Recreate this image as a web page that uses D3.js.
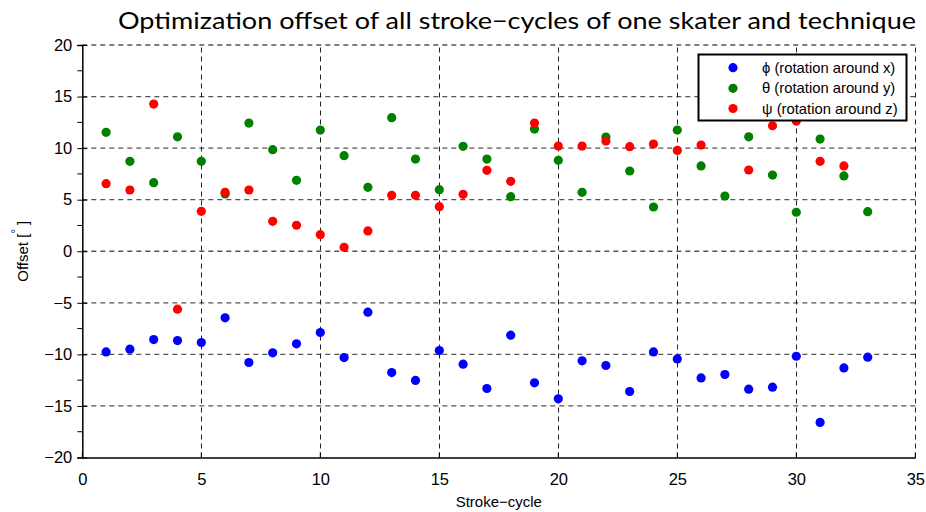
<!DOCTYPE html>
<html>
<head>
<meta charset="utf-8">
<script src="https://cdn.jsdelivr.net/npm/d3@7"></script>
<style>
  html, body { margin: 0; padding: 0; background: #fff; }
  svg { display: block; }
</style>
</head>
<body>
<svg id="chart" width="926" height="512"></svg>
<script>
// Stroke-cycle index for every measured cycle
const cycles = [1,2,3,4,5,6,7,8,9,10,11,12,13,14,15,16,17,18,19,20,21,22,23,24,25,26,27,28,29,30,31,32,33];

// Optimised offsets in degrees (null = not available)
const phi = [-9.76,-9.5,-8.56,-8.66,-8.85,-6.46,-10.79,-9.85,-8.98,-7.88,-10.31,-5.91,-11.76,-12.53,-9.63,-10.95,-13.31,-8.14,-12.76,-14.31,-10.63,-11.08,-13.6,-9.76,-10.44,-12.28,-11.95,-13.37,-13.18,-10.18,-16.6,-11.31,-10.27];
const theta = [11.53,8.72,6.65,11.1,8.72,5.55,12.43,9.85,6.88,11.75,9.27,6.2,12.95,8.94,5.97,10.17,8.94,5.29,11.85,8.82,5.71,11.08,7.78,4.29,11.75,8.27,5.36,11.1,7.39,3.78,10.88,7.3,3.84];
const psi = [6.55,5.94,14.27,-5.62,3.87,5.71,5.94,2.9,2.52,1.61,0.39,1.97,5.42,5.42,4.32,5.52,7.85,6.78,12.43,10.2,10.2,10.69,10.14,10.4,9.78,10.3,null,7.88,12.17,12.62,8.72,8.27,null];

const seriesNames = ["\u03d5 (rotation around x)", "\u03b8 (rotation around y)", "\u03c8 (rotation around z)"];
const seriesColors = ["#0000ff", "#008000", "#ff0000"];

const xTicks = [0,5,10,15,20,25,30,35];
const yTicks = [-20,-15,-10,-5,0,5,10,15,20];
const yMinorTicks = [-17.5,-12.5,-7.5,-2.5,2.5,7.5,12.5,17.5];

const titleText = "Optimization offset of all stroke\u2212cycles of one skater and technique";
const xLabel = "Stroke\u2212cycle";

const W = 926, H = 512;
const margin = { left: 82.3, right: 10.7, top: 45, bottom: 54.5 };
const pw = W - margin.left - margin.right;
const ph = H - margin.top - margin.bottom;

const svg = d3.select("#chart");
const x = d3.scaleLinear().domain([0, 35]).range([margin.left, margin.left + pw]);
const y = d3.scaleLinear().domain([-20, 20]).range([margin.top + ph, margin.top]);

const tickFont = "'Liberation Sans', Arial, sans-serif";

// Dashed grid
const grid = svg.append("g");
grid.selectAll("line.h").data(yTicks.filter(v => v > -20)).join("line")
  .attr("x1", x(0)).attr("x2", x(35))
  .attr("y1", d => y(d)).attr("y2", d => y(d))
  .attr("stroke", "#555").attr("stroke-width", 1.3)
  .attr("stroke-dasharray", "5,4");
grid.selectAll("line.v").data(xTicks.filter(v => v > 0)).join("line")
  .attr("x1", d => Math.round(x(d)) + 0.5).attr("x2", d => Math.round(x(d)) + 0.5)
  .attr("y1", y(-20)).attr("y2", y(20))
  .attr("stroke", "#222").attr("stroke-width", 1)
  .attr("stroke-dasharray", "5,4");

// Y axis with major ticks crossing the spine and minor ticks outside
const yAxis = svg.append("g").attr("transform", `translate(${x(0)},0)`)
  .call(d3.axisLeft(y).tickValues(yTicks).tickSize(5).tickPadding(5)
    .tickFormat(d => d < 0 ? "\u2212" + Math.abs(d) : d));
yAxis.select(".domain").attr("stroke", "#000").attr("stroke-width", 1.5);
yAxis.selectAll(".tick line").attr("x1", -5).attr("x2", 5).attr("stroke", "#000");
yAxis.selectAll(".tick text").attr("font-family", tickFont).attr("font-size", 16.5).attr("fill", "#000");
svg.append("g").selectAll("line").data(yMinorTicks).join("line")
  .attr("x1", x(0) - 5).attr("x2", x(0))
  .attr("y1", d => y(d)).attr("y2", d => y(d))
  .attr("stroke", "#000");

// X axis
const xAxis = svg.append("g").attr("transform", `translate(0,${y(-20)})`)
  .call(d3.axisBottom(x).tickValues(xTicks).tickSize(0).tickPadding(16));
xAxis.select(".domain").attr("stroke", "#000").attr("stroke-width", 1.5);
xAxis.selectAll(".tick text").attr("font-family", tickFont).attr("font-size", 16.5).attr("fill", "#000");
xAxis.selectAll(".tick line").remove();
svg.append("g").selectAll("line").data(xTicks).join("line")
  .attr("x1", d => x(d)).attr("x2", d => x(d))
  .attr("y1", y(-20)).attr("y2", y(-20) - 5)
  .attr("stroke", "#000");

// Points: one group per series, red drawn last
const allSeries = [phi, theta, psi];
allSeries.forEach((vals, si) => {
  svg.append("g").selectAll("circle")
    .data(cycles.map((c, i) => ({ c, v: vals[i] })).filter(d => d.v !== null))
    .join("circle")
    .attr("cx", d => x(d.c)).attr("cy", d => y(d.v))
    .attr("r", 4.6)
    .attr("fill", seriesColors[si]);
});

// Title
svg.append("text")
  .attr("x", 517).attr("y", 29)
  .attr("text-anchor", "middle")
  .attr("font-family", "Lato, 'Open Sans', sans-serif")
  .attr("font-weight", 400)
  .attr("font-size", 24)
  .attr("textLength", 798).attr("lengthAdjust", "spacingAndGlyphs")
  .attr("fill", "#000")
  .text(titleText);

// Axis labels
svg.append("text")
  .attr("x", x(17.5)).attr("y", 507)
  .attr("text-anchor", "middle")
  .attr("font-family", tickFont).attr("font-size", 15)
  .attr("fill", "#000")
  .text(xLabel);

const yl = svg.append("text")
  .attr("transform", `translate(28,${y(0)}) rotate(-90)`)
  .attr("text-anchor", "middle")
  .attr("font-family", tickFont).attr("font-size", 15)
  .attr("fill", "#000");
yl.append("tspan").text("Offset [ ");
yl.append("tspan").attr("dy", -9).attr("dx", -4).attr("font-size", 11).text("\u00b0");
yl.append("tspan").attr("dy", 9).text(" ]");

// Legend
const lg = svg.append("g");
lg.append("rect")
  .attr("x", 698.5).attr("y", 54.5).attr("width", 208).attr("height", 66)
  .attr("fill", "#fff").attr("stroke", "#000").attr("stroke-width", 2);
const rows = [67.7, 88.3, 108.5];
seriesNames.forEach((name, i) => {
  lg.append("circle").attr("cx", 733).attr("cy", rows[i]).attr("r", 4.6).attr("fill", seriesColors[i]);
  lg.append("text")
    .attr("x", 762).attr("y", rows[i] + 5)
    .attr("font-family", tickFont).attr("font-size", 14.8)
    .attr("fill", "#000")
    .text(name);
});
</script>
</body>
</html>
